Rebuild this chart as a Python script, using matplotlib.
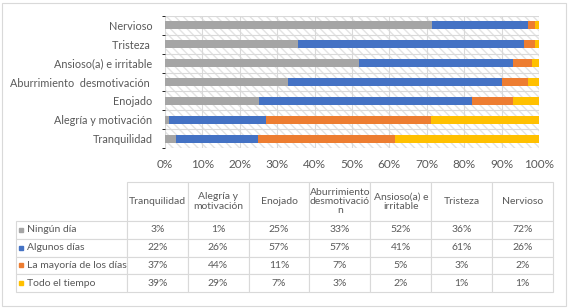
import matplotlib
matplotlib.use("Agg")
import matplotlib.pyplot as plt
import numpy as np
from matplotlib.patches import Rectangle
from matplotlib.table import Table

plt.rcParams["font.family"] = ["Lato", "DejaVu Sans"]

# data (categories listed from bottom bar to top bar, same as table column order)
categories = ["Tranquilidad", "Alegría y motivación", "Enojado",
              "Aburrimiento  desmotivación ", "Ansioso(a) e irritable",
              "Tristeza ", "Nervioso"]
col_labels = ["Tranquilidad", "Alegría y\nmotivación", "Enojado",
              "Aburrimiento\ndesmotivació\nn", "Ansioso(a) e\nirritable",
              "Tristeza", "Nervioso"]
series_names = ["Ningún día", "Algunos días", "La mayoría de los días", "Todo el tiempo"]
ningun = [3, 1, 25, 33, 52, 36, 72]
algunos = [22, 26, 57, 57, 41, 61, 26]
mayoria = [37, 44, 11, 7, 5, 3, 2]
todo = [39, 29, 7, 3, 2, 1, 1]
colors = ["#A5A5A5", "#4472C4", "#ED7D31", "#FFC000"]

TXT = "#595959"
GRID = "#D9D9D9"
W, H = 569, 308

fig = plt.figure(figsize=(W / 100, H / 100), dpi=100)

# ---- bar chart ----
ax = fig.add_axes([165 / W, 1 - 148 / H, 374 / W, 132 / H])
data = np.array([ningun, algunos, mayoria, todo], dtype=float)
shares = data / data.sum(axis=0) * 100
y = np.arange(len(categories))
left = np.zeros(len(categories))
for vals, c in zip(shares, colors):
    ax.barh(y, vals, left=left, height=0.42, color=c, zorder=3)
    left += vals

ax.add_patch(Rectangle((0, 0), 1, 1, transform=ax.transAxes, facecolor="white",
                       edgecolor="#E3E3E3", hatch="\\\\\\\\", lw=0, zorder=0))
ax.set_xlim(0, 100)
ax.set_ylim(-0.5, len(categories) - 0.5)
ax.set_xticks(np.arange(0, 101, 10))
ax.set_xticklabels([f"{v}%" for v in range(0, 101, 10)])
ax.set_yticks(y)
ax.set_yticklabels(categories)
ax.set_yticks(np.arange(-0.5, len(categories), 1), minor=True)
ax.tick_params(axis="both", length=0, colors=TXT)
ax.tick_params(axis="x", pad=8, labelsize=8.5)
ax.tick_params(axis="y", pad=9, labelsize=7.8)
ax.grid(axis="x", color=GRID, lw=0.8, zorder=1)
ax.grid(axis="y", which="minor", color=GRID, lw=0.8, zorder=1)
for s in ax.spines.values():
    s.set_visible(False)

# ---- data table ----
tax = fig.add_axes([0, 0, 1, 1])
tax.axis("off")
tax.set_xlim(0, 1)
tax.set_ylim(0, 1)
t_left, t_right, t_top, t_bot = 16, 553, 182, 292
label_w, col_w = 111, 61
head_h, row_h = 39, 17.75
tab = Table(tax, bbox=[t_left / W, 1 - t_bot / H, (t_right - t_left) / W, (t_bot - t_top) / H])
c0 = tab.add_cell(0, 0, label_w, head_h, text="")
c0.visible_edges = ""
for j, lab in enumerate(col_labels):
    tab.add_cell(0, j + 1, col_w, head_h, text=lab, loc="center", edgecolor=GRID)
for i, (name, vals) in enumerate(zip(series_names, data)):
    tab.add_cell(i + 1, 0, label_w, row_h, text=name, loc="left", edgecolor=GRID)
    for j, v in enumerate(vals):
        tab.add_cell(i + 1, j + 1, col_w, row_h, text=f"{int(v)}%", loc="center", edgecolor=GRID)
tab.auto_set_font_size(False)
tab.set_fontsize(7.5)
for cell in tab.get_celld().values():
    cell.get_text().set_color(TXT)
    cell.get_text().set_linespacing(1.05)
    cell.set_linewidth(0.8)
tax.add_table(tab)

# legend keys inside the row label cells
for i, c in enumerate(colors):
    yc = 1 - (t_top + head_h + row_h * (i + 0.5)) / H
    tax.plot([21 / W], [yc], marker="s", ms=3.5, color=c, lw=0)

# chart border
tax.add_patch(Rectangle((2 / W, 2 / H), 564 / W, 303 / H, fill=False, edgecolor=GRID, lw=0.8))

fig.savefig("out.png", dpi=100)
